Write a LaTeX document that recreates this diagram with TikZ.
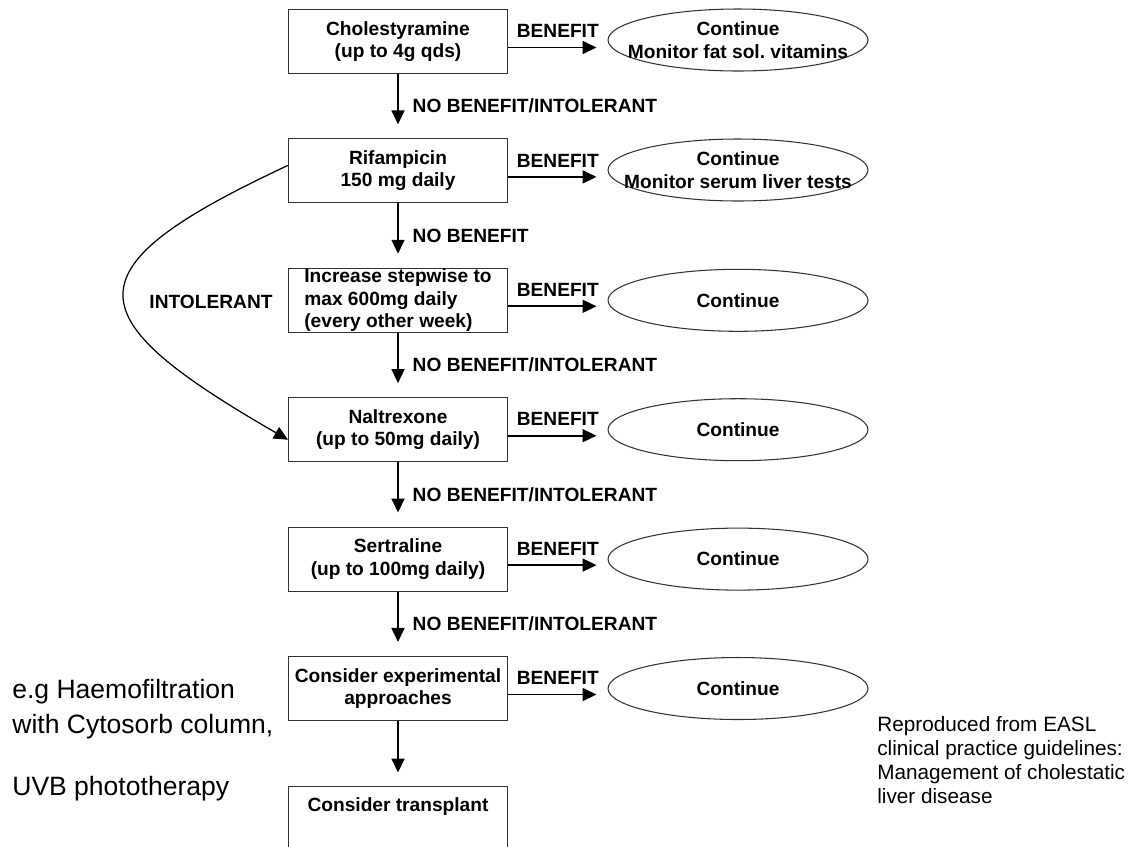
\documentclass[tikz,border=0pt]{standalone}
\usepackage{fontspec}
\setmainfont{Liberation Sans}
\usetikzlibrary{arrows.meta, shapes.geometric}
\definecolor{boxline}{HTML}{333333}

\begin{document}
\begin{tikzpicture}[
  x=0.02cm, y=-0.02cm,
  every node/.style={align=center, text=black},
  drug/.style={rectangle, sharp corners, draw=boxline, line width=0.65pt,
    font=\fontsize{10.9}{12.7}\selectfont\bfseries,
    minimum width=4.38cm, minimum height=1.28cm, inner sep=0pt},
  outcome/.style={ellipse, draw=boxline, line width=0.6pt,
    font=\fontsize{10.9}{12.7}\selectfont\bfseries,
    minimum width=5.2cm, minimum height=1.24cm, inner xsep=-1cm, inner ysep=0pt},
  lbl/.style={font=\fontsize{10.9}{12.7}\selectfont\bfseries},
  arrow/.style={-{Triangle[length=2.8mm, width=2.6mm]}, line width=1pt, black}
]
\clip (0,0) rectangle (1131,846);

% Treatment steps
\node[drug] (chol) at (398,41.5) {Cholestyramine\\(up to 4g qds)};
\node[drug] (rif) at (398,170.9) {Rifampicin\\150 mg daily};
\node[drug, align=left] (incr) at (398,300.3) {Increase stepwise to\\max 600mg daily\\(every other week)};
\node[drug] (nalt) at (398,429.7) {Naltrexone\\(up to 50mg daily)};
\node[drug] (sert) at (398,559.1) {Sertraline\\(up to 100mg daily)};
\node[drug] (expt) at (398,688.5) {Consider experimental\\approaches};
\node[drug, anchor=north, inner ysep=0.24cm, text depth=1.2cm] (transp) at (398,785.5) {Consider transplant};

% Outcomes on benefit
\node[outcome] (cont1) at (738,40) {Continue\\Monitor fat sol.\ vitamins};
\node[outcome] (cont2) at (738,170) {Continue\\Monitor serum liver tests};
\node[outcome] (cont3) at (738,300.3) {Continue};
\node[outcome] (cont4) at (738,429.7) {Continue};
\node[outcome] (cont5) at (738,559.1) {Continue};
\node[outcome] (cont6) at (738,688.5) {Continue};

% Side notes
\node[anchor=west, align=left, inner sep=0pt, font=\fontsize{15.1}{19.9}\selectfont] (note) at (12,740)
  {e.g Haemofiltration\\with Cytosorb column,\\[15.4pt]UVB phototherapy};
\node[anchor=west, align=left, inner sep=0pt, font=\fontsize{11.8}{13.6}\selectfont] (source) at (877,760)
  {Reproduced from EASL\\clinical practice guidelines:\\Management of cholestatic\\liver disease};

% Arrows down the ladder
\draw[arrow, shorten >=0.28cm] (chol) -- node[lbl, right=0.16cm] {NO BENEFIT/INTOLERANT} (rif);
\draw[arrow, shorten >=0.28cm] (rif) -- node[lbl, right=0.16cm] {NO BENEFIT} (incr);
\draw[arrow, shorten >=0.28cm] (incr) -- node[lbl, right=0.16cm] {NO BENEFIT/INTOLERANT} (nalt);
\draw[arrow, shorten >=0.28cm] (nalt) -- node[lbl, right=0.16cm] {NO BENEFIT/INTOLERANT} (sert);
\draw[arrow, shorten >=0.28cm] (sert) -- node[lbl, right=0.16cm] {NO BENEFIT/INTOLERANT} (expt);
\draw[arrow, shorten >=0.26cm] (expt) -- (transp);

% Benefit arrows
\foreach \src/\dst in {chol/cont1, rif/cont2, incr/cont3, nalt/cont4, sert/cont5, expt/cont6}
  \draw[arrow, shorten >=0.22cm] ([yshift=-0.12cm]\src.east) -- node[lbl, above=0.06cm] {BENEFIT} ([yshift=-0.12cm]\src.east -| \dst.west);

% Intolerant to rifampicin
\draw[arrow, line width=0.7pt] ([yshift=0.11cm]rif.west) to[out=205, in=150, looseness=2.3] ([yshift=-0.2cm]nalt.west);
\node[lbl] (intol) at (211,302) {INTOLERANT};

\end{tikzpicture}
\end{document}
